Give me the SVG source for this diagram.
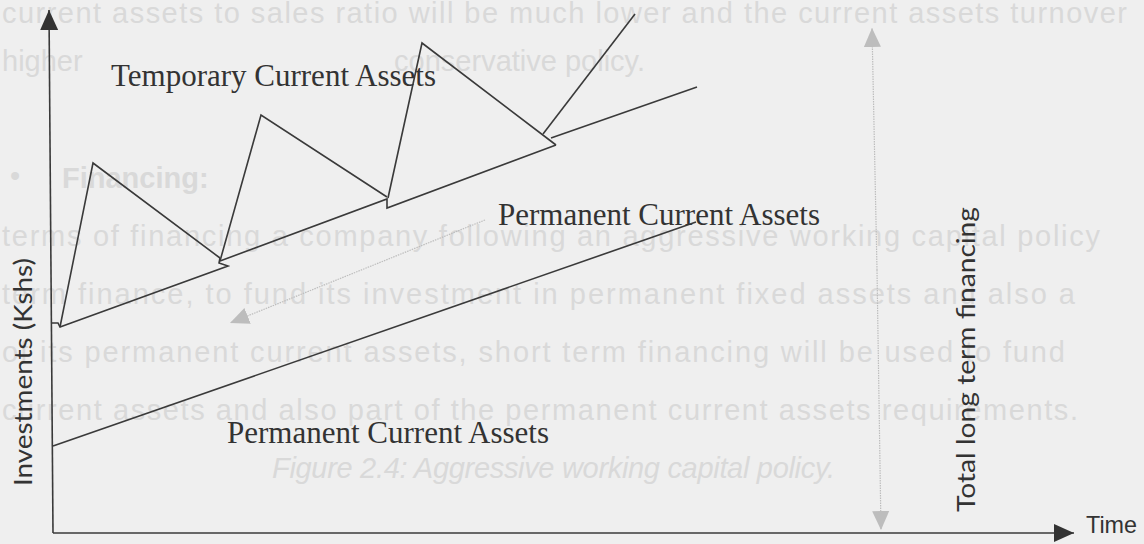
<svg xmlns="http://www.w3.org/2000/svg" width="1144" height="544" viewBox="0 0 1144 544">
  <style>
    .page { font-family: "Liberation Sans", Arial, sans-serif; font-size: 29px; fill: #d9d9d9; }
    .page-b { font-weight: bold; }
    .page-i { font-style: italic; }
    .label { font-family: "Liberation Serif", "Times New Roman", serif; font-size: 31px; fill: #333333; }
    .axis-label { font-family: Lato, "Open Sans", sans-serif; font-size: 25px; fill: #333333; }
    .time { font-family: "Liberation Sans", Arial, sans-serif; font-size: 24px; fill: #333333; }
    .line { fill: none; stroke: #3a3a3a; stroke-width: 1.6; stroke-linejoin: miter; }
    .faint { fill: none; stroke: #bdbdbd; stroke-width: 1.2; stroke-dasharray: 1.5 1; }
  </style>
  <defs>
    <marker id="head-dark" viewBox="0 0 20 20" refX="20" refY="10" markerWidth="20" markerHeight="20" markerUnits="userSpaceOnUse" orient="auto">
      <path d="M0,1 L20,10 L0,19 Z" fill="#333333"/>
    </marker>
    <marker id="head-faint" viewBox="0 0 20 20" refX="20" refY="10" markerWidth="19" markerHeight="19" markerUnits="userSpaceOnUse" orient="auto">
      <path d="M0,1 L20,10 L0,19 Z" fill="#bdbdbd"/>
    </marker>
  </defs>

  <rect width="1144" height="544" fill="#efefef"/>

  <!-- body text of the page behind the chart -->
  <g id="page-text" class="page">
    <text x="2" y="23" textLength="1125" lengthAdjust="spacing">current assets to sales ratio will be much lower and the current assets turnover</text>
    <text x="2" y="71">higher</text>
    <text x="645" y="71" text-anchor="end">conservative policy.</text>
    <text x="10" y="186">•</text>
    <text x="62" y="188" class="page-b">Financing:</text>
    <text x="2" y="246" textLength="1098" lengthAdjust="spacing">terms of financing a company following an aggressive working capital policy</text>
    <text x="2" y="304" textLength="1073" lengthAdjust="spacing">term finance, to fund its investment in permanent fixed assets and also a</text>
    <text x="2" y="362" textLength="1063" lengthAdjust="spacing">of its permanent current assets, short term financing will be used to fund</text>
    <text x="2" y="420" textLength="1076" lengthAdjust="spacing">current assets and also part of the permanent current assets requirements.</text>
    <text x="272" y="478" class="page-i" textLength="563" lengthAdjust="spacing">Figure 2.4: Aggressive working capital policy.</text>
  </g>

  <!-- axes -->
  <g id="axes">
    <line class="line" x1="53" y1="533" x2="49" y2="10" marker-end="url(#head-dark)"/>
    <line class="line" x1="53" y1="533" x2="1074" y2="533" marker-end="url(#head-dark)"/>
    <text class="axis-label" transform="translate(32,486) rotate(-90)" textLength="228" lengthAdjust="spacingAndGlyphs">Investments (Kshs)</text>
    <text class="time" x="1086" y="533" textLength="51" lengthAdjust="spacingAndGlyphs">Time</text>
  </g>

  <!-- permanent current assets level -->
  <g id="permanent-line">
    <line class="line" x1="53" y1="446" x2="696" y2="222"/>
    <text class="label" x="227" y="443">Permanent Current Assets</text>
  </g>

  <!-- temporary current assets: sawtooth above the permanent level -->
  <g id="temporary-sawtooth">
    <path class="line" d="M52,323 L58,323 L60,327 L228,266 L219,263 L220,258"/>
    <path class="line" d="M60,327 L93,163 L220,258"/>
    <path class="line" d="M220,261 L387,199 L387,208 L556,145"/>
    <path class="line" d="M220,261 L261,115 L387,197"/>
    <path class="line" d="M388,198 L422,43 L556,145"/>
    <path class="line" d="M543,134 L635,14"/>
    <path class="line" d="M551,138 L697,87"/>
    <text class="label" x="111" y="86">Temporary Current Assets</text>
    <text class="label" x="498" y="225">Permanent Current Assets</text>
  </g>

  <!-- pointer arrow and the long-term financing span -->
  <g id="connectors">
    <line class="faint" x1="485" y1="220" x2="230" y2="323" marker-end="url(#head-faint)"/>
    <line class="faint" x1="877" y1="270" x2="872" y2="28" marker-end="url(#head-faint)"/>
    <line class="faint" x1="877" y1="270" x2="881" y2="530" marker-end="url(#head-faint)"/>
  </g>

  <g id="financing-label">
    <text class="axis-label" transform="translate(975,512) rotate(-90)" textLength="305" lengthAdjust="spacingAndGlyphs">Total long term financing</text>
  </g>
</svg>
